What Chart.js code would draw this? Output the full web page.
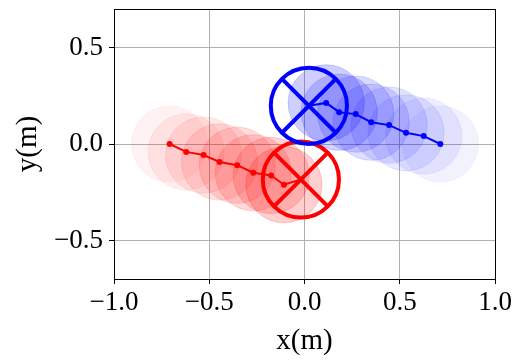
<!DOCTYPE html>
<html>
<head>
<meta charset="utf-8">
<script src="https://cdn.jsdelivr.net/npm/chart.js@4.4.0/dist/chart.umd.min.js"></script>
<style>
  html, body { margin: 0; padding: 0; background: #fff; }
  #wrap { width: 530px; height: 362px; }
</style>
</head>
<body>
<div id="wrap"><canvas id="robots"></canvas></div>
<script>
// past positions of the two robots (oldest first), and where they are now
var redX = [-0.708, -0.621, -0.530, -0.446, -0.353, -0.269, -0.175, -0.108];
var redY = [0.000, -0.041, -0.057, -0.093, -0.110, -0.149, -0.163, -0.211];
var redNow = [-0.019, -0.184];

var blueX = [0.713, 0.626, 0.533, 0.444, 0.350, 0.269, 0.182, 0.114];
var blueY = [0.000, 0.041, 0.058, 0.098, 0.113, 0.155, 0.165, 0.213];
var blueNow = [0.023, 0.198];

var robotRadius = 0.2;   // metres
var xTicks = [-1.0, -0.5, 0.0, 0.5, 1.0];
var yTicks = [-0.5, 0.0, 0.5];

var serif = "'Liberation Serif', 'Times New Roman', Times, serif";

function pts(xs, ys) {
    return xs.map(function(x, i) { return { x: x, y: ys[i] }; });
}

// radius in pixels from the x scale, so circles keep the robot size
function radPx(ctx) {
    var s = ctx.chart.scales.x;
    if (!s) return 0;
    return Math.abs(s.getPixelForValue(robotRadius) - s.getPixelForValue(0));
}

function trailColor(rgb) {
    return function(ctx) {
        var a = 0.05 + 0.02 * ctx.dataIndex;
        return 'rgba(' + rgb + ',' + a + ')';
    };
}

function fmt(v) {
    var s = Math.abs(v).toFixed(1);
    return v < 0 ? '\u2212' + s : s;
}

var redPath = pts(redX, redY).concat([{ x: redNow[0], y: redNow[1] }]);
var bluePath = pts(blueX, blueY).concat([{ x: blueNow[0], y: blueNow[1] }]);

var frame = {
    id: 'frame',
    afterDraw: function(chart) {
        var a = chart.chartArea, c = chart.ctx;
        c.save();
        c.strokeStyle = '#000';
        c.lineWidth = 1;
        c.strokeRect(Math.round(a.left) + 0.5, Math.round(a.top) + 0.5,
                     Math.round(a.right - a.left), Math.round(a.bottom - a.top));
        c.restore();
    }
};

var ctx = document.getElementById('robots').getContext('2d');
var robotChart = new Chart(ctx, {
    type: 'scatter',
    data: {
        datasets: [
            {   // red trail circles
                data: pts(redX, redY),
                pointRadius: radPx,
                pointHoverRadius: radPx,
                backgroundColor: trailColor('255,0,0'),
                borderColor: trailColor('255,0,0'),
                borderWidth: 1
            },
            {   // blue trail circles
                data: pts(blueX, blueY),
                pointRadius: radPx,
                pointHoverRadius: radPx,
                backgroundColor: trailColor('0,0,255'),
                borderColor: trailColor('0,0,255'),
                borderWidth: 1
            },
            {
                data: redPath,
                showLine: true,
                borderColor: '#f00',
                backgroundColor: '#f00',
                borderWidth: 2,
                pointRadius: function(c) { return c.dataIndex === redPath.length - 1 ? 0 : 3; },
                pointBorderWidth: 0
            },
            {
                data: bluePath,
                showLine: true,
                borderColor: '#00f',
                backgroundColor: '#00f',
                borderWidth: 2,
                pointRadius: function(c) { return c.dataIndex === bluePath.length - 1 ? 0 : 3; },
                pointBorderWidth: 0
            },
            {
                data: [{ x: blueNow[0], y: blueNow[1] }],
                pointStyle: 'circle',
                pointRadius: radPx,
                backgroundColor: 'rgba(0,0,0,0)',
                borderColor: '#00f',
                borderWidth: 4
            },
            {
                data: [{ x: blueNow[0], y: blueNow[1] }],
                pointStyle: 'crossRot',
                pointRadius: radPx,
                borderColor: '#00f',
                borderWidth: 4
            },
            {
                data: [{ x: redNow[0], y: redNow[1] }],
                pointStyle: 'circle',
                pointRadius: radPx,
                backgroundColor: 'rgba(0,0,0,0)',
                borderColor: '#f00',
                borderWidth: 4
            },
            {
                data: [{ x: redNow[0], y: redNow[1] }],
                pointStyle: 'crossRot',
                pointRadius: radPx,
                borderColor: '#f00',
                borderWidth: 4
            }
        ]
    },
    options: {
        responsive: true,
        maintainAspectRatio: false,
        animation: false,
        events: [],
        layout: { padding: { top: 9, right: 35, left: 0, bottom: 0 } },
        plugins: {
            legend: { display: false },
            tooltip: { enabled: false }
        },
        scales: {
            x: {
                type: 'linear',
                min: -1, max: 1,
                afterBuildTicks: function(s) { s.ticks = xTicks.map(function(v) { return { value: v }; }); },
                afterFit: function(s) { s.height = 83; s.paddingLeft = 0; s.paddingRight = 0; },
                ticks: {
                    callback: fmt,
                    color: '#000',
                    padding: 3,
                    maxRotation: 0,
                    font: { family: serif, size: 27 }
                },
                grid: { color: '#b0b0b0', tickColor: '#000', tickLength: 5 },
                border: { color: '#000' },
                title: {
                    display: true,
                    text: 'x(m)',
                    color: '#000',
                    padding: { top: 5, bottom: 3 },
                    font: { family: serif, size: 29 }
                }
            },
            y: {
                type: 'linear',
                min: -0.7, max: 0.7,
                afterBuildTicks: function(s) { s.ticks = yTicks.map(function(v) { return { value: v }; }); },
                afterFit: function(s) { s.width = 114; s.paddingTop = 0; s.paddingBottom = 0; },
                ticks: {
                    callback: fmt,
                    color: '#000',
                    padding: 6,
                    font: { family: serif, size: 27 }
                },
                grid: { color: '#b0b0b0', tickColor: '#000', tickLength: 5 },
                border: { color: '#000' },
                title: {
                    display: true,
                    text: 'y(m)',
                    color: '#000',
                    padding: { top: 11, bottom: 4 },
                    font: { family: serif, size: 29 }
                }
            }
        }
    },
    plugins: [frame]
});
</script>
</body>
</html>
